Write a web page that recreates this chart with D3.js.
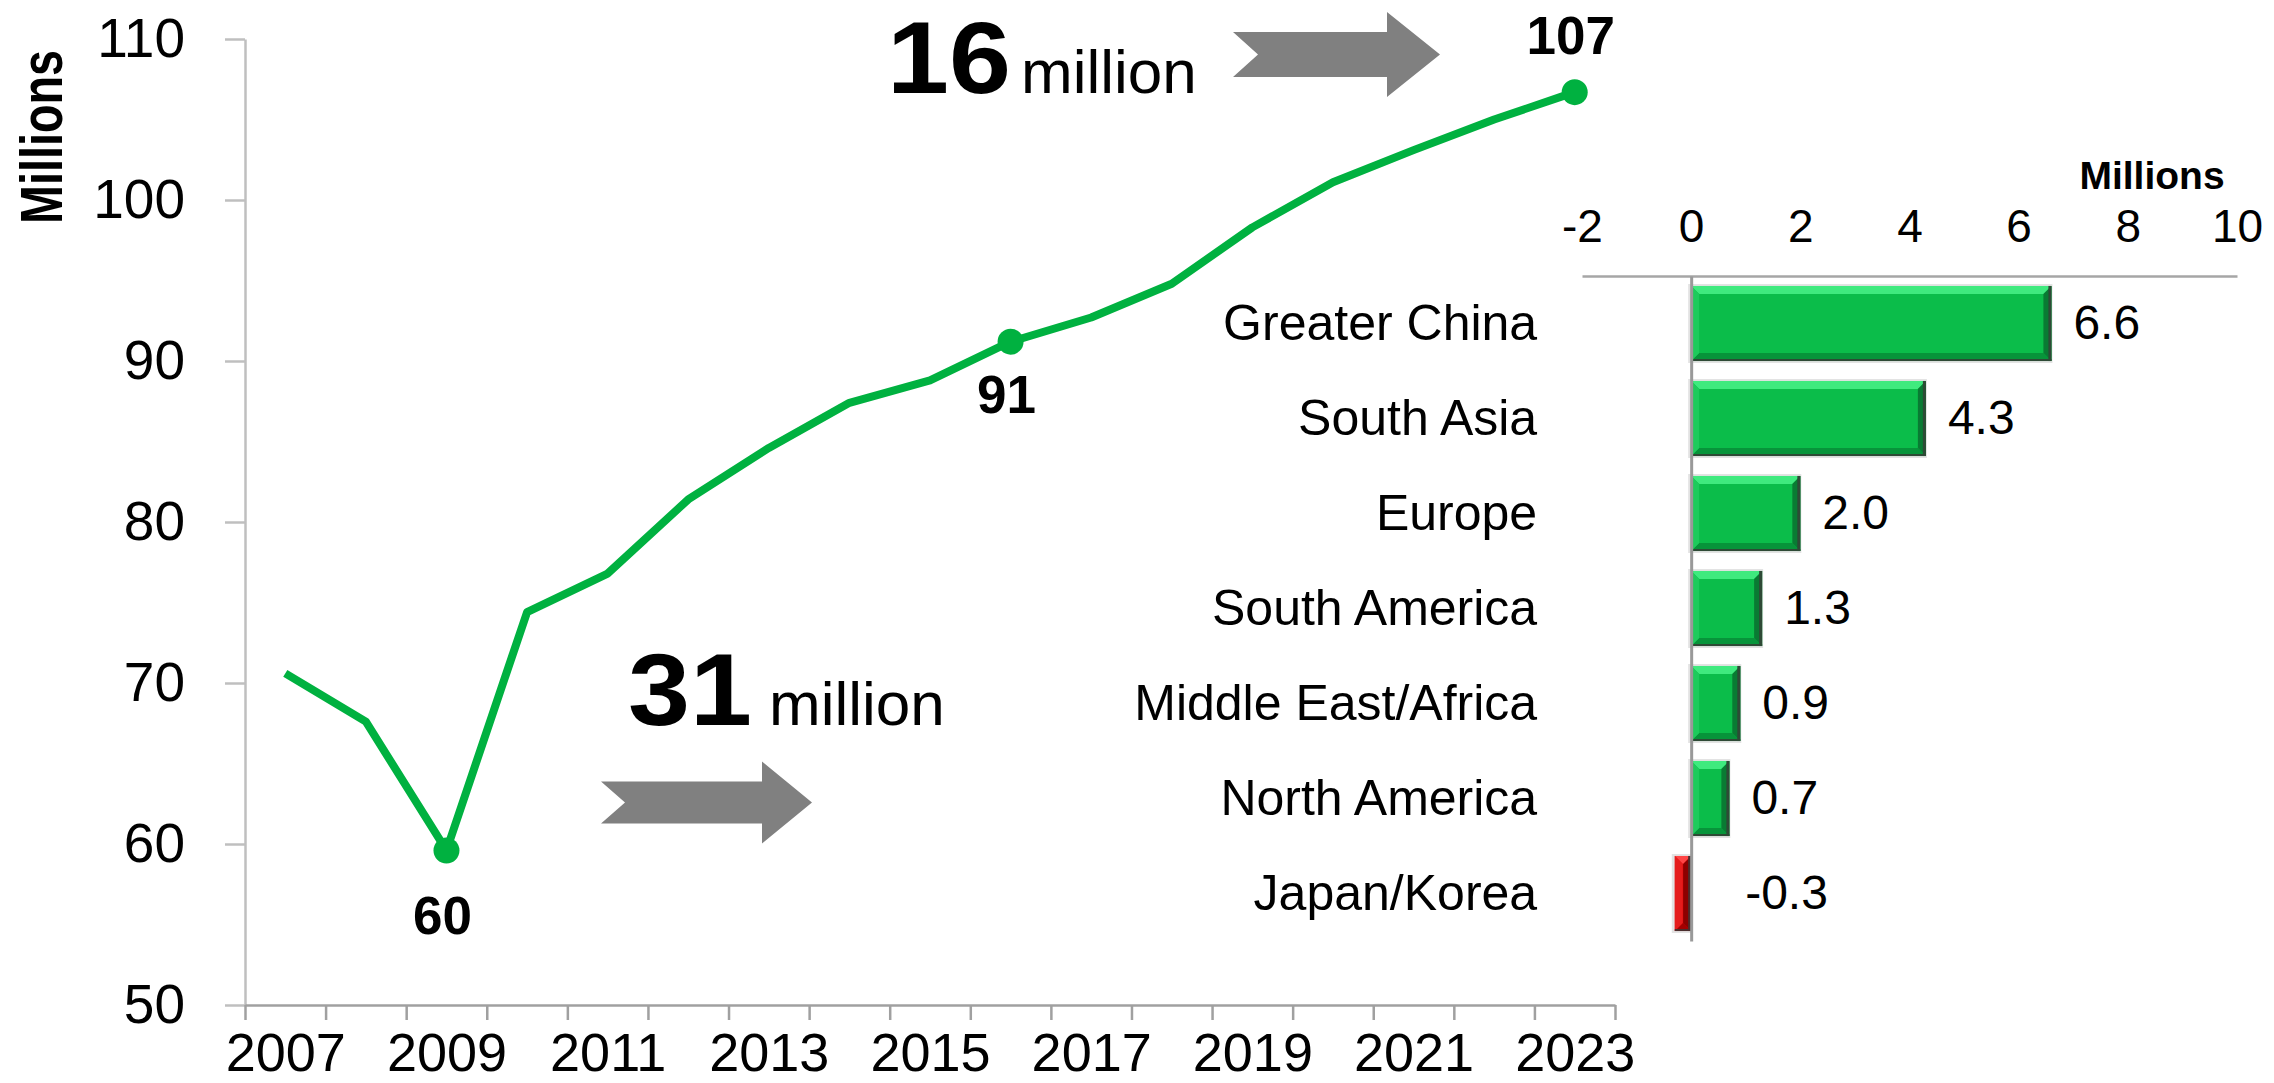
<!DOCTYPE html>
<html>
<head>
<meta charset="utf-8">
<script src="https://cdn.jsdelivr.net/npm/d3@7"></script>
<style>
  body { margin: 0; background: #fff; }
  svg { display: block; font-family: "Liberation Sans", Arial, sans-serif; }
</style>
</head>
<body>
<svg width="2274" height="1083"></svg>
<script>
// line chart data (millions of units)
const years = [2007, 2008, 2009, 2010, 2011, 2012, 2013, 2014, 2015, 2016, 2017, 2018, 2019, 2020, 2021, 2022, 2023];
const units = [70.6, 67.6, 59.6, 74.4, 76.8, 81.4, 84.6, 87.4, 88.8, 91.2, 92.7, 94.8, 98.3, 101.1, 103.1, 105.0, 106.7];
const yTicks = [50, 60, 70, 80, 90, 100, 110];
const yearLabels = [2007, 2009, 2011, 2013, 2015, 2017, 2019, 2021, 2023];
const markedYears = [2009, 2016, 2023];

// bar chart data (growth, millions)
const regions = ['Greater China', 'South Asia', 'Europe', 'South America', 'Middle East/Africa', 'North America', 'Japan/Korea'];
const growth = [6.6, 4.3, 2.0, 1.3, 0.9, 0.7, -0.3];
const growthTicks = [-2, 0, 2, 4, 6, 8, 10];

const svg = d3.select('svg');
const green = '#00B140';
const fmt1 = v => d3.format('.1f')(v).replace('\u2212', '-');

// ---- line chart ----
const x = d3.scaleLinear().domain([2006.5, 2023.5]).range([245, 1615]);
const y = d3.scaleLinear().domain([50, 110]).range([1005, 39]);

const yAxis = svg.append('g')
    .attr('transform', 'translate(' + x.range()[0] + ',0)')
    .call(d3.axisLeft(y).tickValues(yTicks).tickSize(20).tickPadding(40).tickSizeOuter(0));
yAxis.selectAll('path, line').attr('stroke', '#bfbfbf').attr('stroke-width', 2.5);
yAxis.selectAll('text').attr('font-size', 55).attr('fill', '#000').attr('font-family', 'Liberation Sans, Arial, sans-serif');

const bounds = years.map(d => d - 0.5).concat([2023.5]);
const xAxis = svg.append('g')
    .attr('transform', 'translate(0,' + y.range()[0] + ')')
    .call(d3.axisBottom(x).tickValues(bounds).tickSize(15).tickFormat('').tickSizeOuter(0));
xAxis.selectAll('path, line').attr('stroke', '#a0a0a0').attr('stroke-width', 2.5);

const xLabels = svg.append('g')
    .attr('transform', 'translate(0,' + y.range()[0] + ')')
    .call(d3.axisBottom(x).tickValues(yearLabels).tickFormat(d3.format('d')).tickSize(0).tickPadding(28));
xLabels.select('.domain').remove();
xLabels.selectAll('text').attr('font-size', 54).attr('fill', '#000').attr('font-family', 'Liberation Sans, Arial, sans-serif');

svg.append('text')
    .attr('transform', 'translate(62,137) rotate(-90)')
    .attr('text-anchor', 'middle')
    .attr('font-weight', 'bold')
    .attr('font-size', 60)
    .attr('textLength', 174)
    .attr('lengthAdjust', 'spacingAndGlyphs')
    .text('Millions');

const line = d3.line().x((d, i) => x(years[i])).y(d => y(d));
svg.append('path')
    .datum(units)
    .attr('fill', 'none')
    .attr('stroke', green)
    .attr('stroke-width', 8)
    .attr('stroke-linejoin', 'round')
    .attr('d', line);

const marked = markedYears.map(yr => ({year: yr, value: units[years.indexOf(yr)]}));
svg.selectAll('.dot')
  .data(marked)
  .enter()
  .append('circle')
  .attr('class', 'dot')
  .attr('cx', d => x(d.year))
  .attr('cy', d => y(d.value))
  .attr('r', 13)
  .attr('fill', green);

svg.selectAll('.dotLabel')
  .data(marked)
  .enter()
  .append('text')
  .attr('class', 'dotLabel')
  .attr('x', d => x(d.year) - 4)
  .attr('y', (d, i) => y(d.value) + (i === 0 ? 84 : i === 1 ? 71 : -38))
  .attr('text-anchor', 'middle')
  .attr('font-weight', 'bold')
  .attr('font-size', 53)
  .text(d => d3.format('.0f')(d.value));

// growth annotations
function arrow(tailX, notch, headX, tipX, cy, sh, hh) {
  const pts = [[tailX, cy - sh], [headX, cy - sh], [headX, cy - hh], [tipX, cy], [headX, cy + hh],
               [headX, cy + sh], [tailX, cy + sh], [notch, cy]];
  svg.append('polygon').attr('points', pts.map(p => p.join(',')).join(' ')).attr('fill', '#808080');
}
arrow(1233, 1258, 1387, 1440, 54.5, 22.5, 42.5);
arrow(601, 625, 762, 812, 802.5, 21, 41);

function bigNumber(x0, base, num, gap) {
  svg.append('text').attr('x', x0).attr('y', base)
    .attr('font-weight', 'bold').attr('font-size', 102)
    .attr('textLength', 124).attr('lengthAdjust', 'spacingAndGlyphs')
    .text(num);
  svg.append('text').attr('x', x0 + gap).attr('y', base)
    .attr('font-size', 62).text('million');
}
bigNumber(887, 93, '16', 134);
bigNumber(628, 725, '31', 141);

// ---- bar chart ----
const xb = d3.scaleLinear().domain([-2, 10]).range([1582, 2237]);
const yb = d3.scaleBand().domain(regions).range([276, 941]).paddingInner(0.21).paddingOuter(0.105);

const topAxis = svg.append('g')
    .attr('transform', 'translate(0,' + yb.range()[0] + ')')
    .call(d3.axisTop(xb).tickValues(growthTicks).tickFormat(d => String(d)).tickSize(0).tickPadding(34).tickSizeOuter(0));
topAxis.select('.domain').attr('stroke', '#a6a6a6').attr('stroke-width', 2.5);
topAxis.selectAll('text').attr('font-size', 46).attr('fill', '#000').attr('font-family', 'Liberation Sans, Arial, sans-serif');

svg.append('text')
    .attr('x', 2152).attr('y', 189)
    .attr('text-anchor', 'middle')
    .attr('font-weight', 'bold')
    .attr('font-size', 39)
    .text('Millions');

const bars = regions.map((r, i) => ({region: r, value: growth[i]}));

function bevelBar(g, x0, y0, w, h, c) {
  const b = Math.min(8, w / 2);
  const poly = (pts, fill) => g.append('polygon').attr('points', pts.map(p => p.join(',')).join(' ')).attr('fill', fill);
  g.append('rect').attr('x', x0 - 3).attr('y', y0 - 2).attr('width', w + 4).attr('height', h + 4).attr('fill', '#e3e3e3');
  g.append('rect').attr('x', x0).attr('y', y0).attr('width', w).attr('height', h).attr('fill', c.base);
  poly([[x0, y0], [x0 + w, y0], [x0 + w - b, y0 + b], [x0 + b, y0 + b]], c.top);
  poly([[x0, y0 + h], [x0 + w, y0 + h], [x0 + w - b, y0 + h - b], [x0 + b, y0 + h - b]], c.bottom);
  poly([[x0 + w, y0], [x0 + w, y0 + h], [x0 + w - b, y0 + h - b], [x0 + w - b, y0 + b]], c.right);
  poly([[x0, y0], [x0, y0 + h], [x0 + b, y0 + h - b], [x0 + b, y0 + b]], c.left);
  g.append('rect').attr('x', x0 + w - 3).attr('y', y0).attr('width', 3).attr('height', h).attr('fill', c.edge);
  g.append('rect').attr('x', x0).attr('y', y0 + h - 2).attr('width', w).attr('height', 2).attr('fill', c.edge);
}
const greenBevel = {base: '#0BBD4A', top: '#3FEA7E', bottom: '#07943A', right: '#097B33', left: '#1ECB5C', edge: '#2e4a36'};
const redBevel = {base: '#D60000', top: '#FF4545', bottom: '#A30000', right: '#8C0000', left: '#E51C1C', edge: '#4a2e2e'};

const barG = svg.append('g');
bars.forEach(d => {
  const g = barG.append('g').attr('class', 'bar');
  const x0 = xb(Math.min(0, d.value));
  const w = Math.abs(xb(d.value) - xb(0));
  bevelBar(g, x0, yb(d.region), w, yb.bandwidth(), d.value < 0 ? redBevel : greenBevel);
});

// zero line and category labels
const leftAxis = svg.append('g')
    .attr('transform', 'translate(' + xb(0) + ',0)')
    .call(d3.axisLeft(yb).tickSize(0).tickPadding(154).tickSizeOuter(0));
leftAxis.select('.domain').attr('stroke', '#999').attr('stroke-width', 3);
leftAxis.selectAll('text').attr('font-size', 50).attr('fill', '#000').attr('font-family', 'Liberation Sans, Arial, sans-serif');

svg.selectAll('.barLabel')
  .data(bars)
  .enter()
  .append('text')
  .attr('class', 'barLabel')
  .attr('x', d => xb(Math.max(0, d.value)) + (d.value < 0 ? 54 : 22))
  .attr('y', d => yb(d.region) + yb.bandwidth() / 2)
  .attr('dy', '0.32em')
  .attr('font-size', 48)
  .text(d => fmt1(d.value));
</script>
</body>
</html>
